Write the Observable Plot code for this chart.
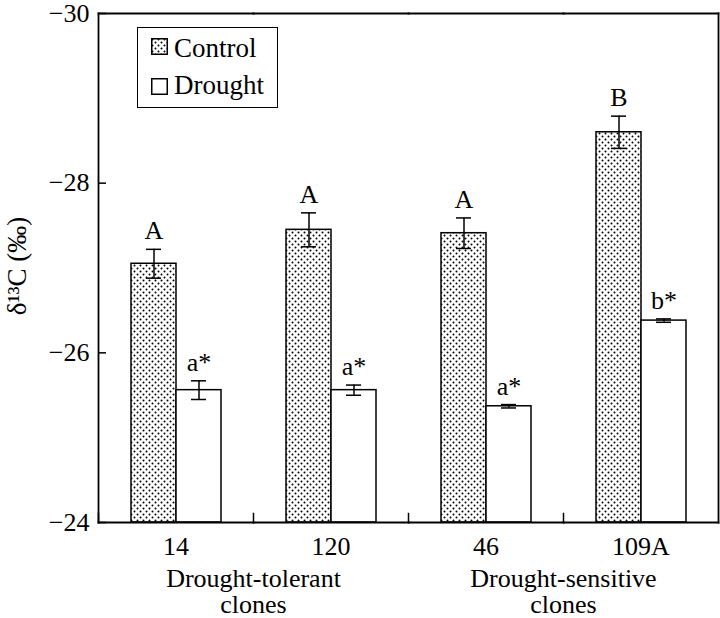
<!DOCTYPE html>
<html>
<head>
<meta charset="utf-8">
<script src="https://cdn.jsdelivr.net/npm/d3@7"></script>
<script src="https://cdn.jsdelivr.net/npm/@observablehq/plot@0.6"></script>
<style>
  body { margin: 0; background: #fff; }
  #wrap { position: relative; width: 720px; height: 618px; font-family: "Liberation Serif", serif; }
  #legend { position: absolute; left: 137px; top: 27px; width: 141px; height: 81px; box-sizing: border-box;
            border: 1.5px solid #000; background: #fff; }
  .sw { position: absolute; left: 12.5px; width: 17px; height: 17px; }
  .lt { position: absolute; left: 36px; font-size: 27px; line-height: 26px; color: #000; white-space: nowrap; }
</style>
</head>
<body>
<svg width="0" height="0" style="position:absolute">
  <defs>
    <pattern id="dots" patternUnits="userSpaceOnUse" width="6" height="6">
      <rect width="6" height="6" fill="#fff"></rect>
      <circle cx="1.5" cy="1.5" r="1" fill="#000"></circle>
      <circle cx="4.5" cy="4.5" r="1" fill="#000"></circle>
    </pattern>
  </defs>
</svg>
<div id="wrap"></div>
<script>
// ---- data ----
const clones = ["14", "120", "46", "109A"];
const series = ["Control", "Drought"];
const controlMean = [-27.05, -27.45, -27.41, -28.60];
const controlSE = [0.17, 0.20, 0.18, 0.19];
const droughtMean = [-25.56, -25.56, -25.37, -26.38];
const droughtSE = [0.11, 0.06, 0.02, 0.02];
const controlLetters = ["A", "A", "A", "B"];
const droughtLetters = ["a*", "a*", "a*", "b*"];
const yTicks = [-30, -28, -26, -24];
const groupLabels = ["Drought-tolerant\nclones", "Drought-sensitive\nclones"];
const groupSecondClone = ["120", "109A"];
const yLabel = "δ¹³C (‰)";

// ---- tables ----
const rows = clones.flatMap((c, i) => [
  {clone: c, series: "Control", mean: controlMean[i], se: controlSE[i], letter: controlLetters[i]},
  {clone: c, series: "Drought", mean: droughtMean[i], se: droughtSE[i], letter: droughtLetters[i]}
]);
const base = d3.max(yTicks);
const groups = groupLabels.map((label, i) => ({clone: groupSecondClone[i], label}));

const chart = Plot.plot({
  width: 720,
  height: 618,
  marginTop: 13,
  marginBottom: 96,
  marginLeft: 97,
  marginRight: 2,
  style: {fontFamily: '"Liberation Serif", serif', fontSize: "26px", background: "transparent", color: "#000"},
  fx: {domain: clones, padding: 0, label: null},
  x: {domain: series, paddingInner: 0, paddingOuter: 0.687, axis: null},
  y: {domain: [yTicks[3], yTicks[0]]},
  marks: [
    Plot.barY(rows.filter(d => d.series === "Control"),
      {fx: "clone", x: "series", y1: () => base, y2: "mean", fill: "url(#dots)", stroke: "#000", strokeWidth: 1.5}),
    Plot.barY(rows.filter(d => d.series === "Drought"),
      {fx: "clone", x: "series", y1: () => base, y2: "mean", fill: "#fff", stroke: "#000", strokeWidth: 1.5}),
    Plot.ruleX(rows, {fx: "clone", x: "series", y1: d => d.mean - d.se, y2: d => d.mean + d.se, stroke: "#000", strokeWidth: 1.5}),
    Plot.tickY(rows, {fx: "clone", x: "series", y: d => d.mean - d.se, inset: 15, stroke: "#000", strokeWidth: 1.5}),
    Plot.tickY(rows, {fx: "clone", x: "series", y: d => d.mean + d.se, inset: 15, stroke: "#000", strokeWidth: 1.5}),
    Plot.text(rows, {fx: "clone", x: "series", y: d => d.mean - d.se, text: "letter", lineAnchor: "bottom", dy: -10, fill: "#000"}),
    Plot.frame({anchor: "top", stroke: "#000", strokeWidth: 1.8}),
    Plot.frame({anchor: "bottom", stroke: "#000", strokeWidth: 1.8}),
    Plot.frame({anchor: "left", facetAnchor: "left", stroke: "#000", strokeWidth: 1.8}),
    Plot.frame({anchor: "right", facetAnchor: "right", stroke: "#000", strokeWidth: 1.8}),
    Plot.frame({anchor: "left", insetTop: 500, stroke: "#000", strokeWidth: 1.5}),
    Plot.axisY({ticks: yTicks, tickSize: -8, tickPadding: 17, tickFormat: d3.format("d"), strokeWidth: 1.5, label: null}),
    Plot.text([yLabel], {text: d => d, frameAnchor: "left", facetAnchor: "left", rotate: -90, dx: -81, dy: -2,
      lineAnchor: "middle", textAnchor: "middle", fontSize: 27, fill: "#000"}),
    Plot.axisFx({anchor: "bottom", tickSize: 0, tickPadding: 14, label: null}),
    Plot.text(groups, {fx: "clone", frameAnchor: "bottom-left", text: "label", textAnchor: "middle",
      lineAnchor: "middle", lineHeight: 1.02, dy: 69, fill: "#000"})
  ]
});

const wrap = document.getElementById("wrap");
wrap.appendChild(chart);

// legend inside plot
const legend = document.createElement("div");
legend.id = "legend";
const swY = [9.5, 49.5];
const txtY = [7, 44];
series.forEach((s, i) => {
  const sw = document.createElementNS("http://www.w3.org/2000/svg", "svg");
  sw.setAttribute("class", "sw");
  sw.setAttribute("width", 17);
  sw.setAttribute("height", 17);
  sw.style.top = swY[i] + "px";
  const r = document.createElementNS("http://www.w3.org/2000/svg", "rect");
  r.setAttribute("x", 0.75); r.setAttribute("y", 0.75);
  r.setAttribute("width", 15.5); r.setAttribute("height", 15.5);
  r.setAttribute("fill", i === 0 ? "url(#dots)" : "#fff");
  r.setAttribute("stroke", "#000"); r.setAttribute("stroke-width", 1.5);
  sw.appendChild(r);
  legend.appendChild(sw);
  const t = document.createElement("div");
  t.className = "lt";
  t.style.top = txtY[i] + "px";
  t.textContent = s;
  legend.appendChild(t);
});
wrap.appendChild(legend);
</script>
</body>
</html>
